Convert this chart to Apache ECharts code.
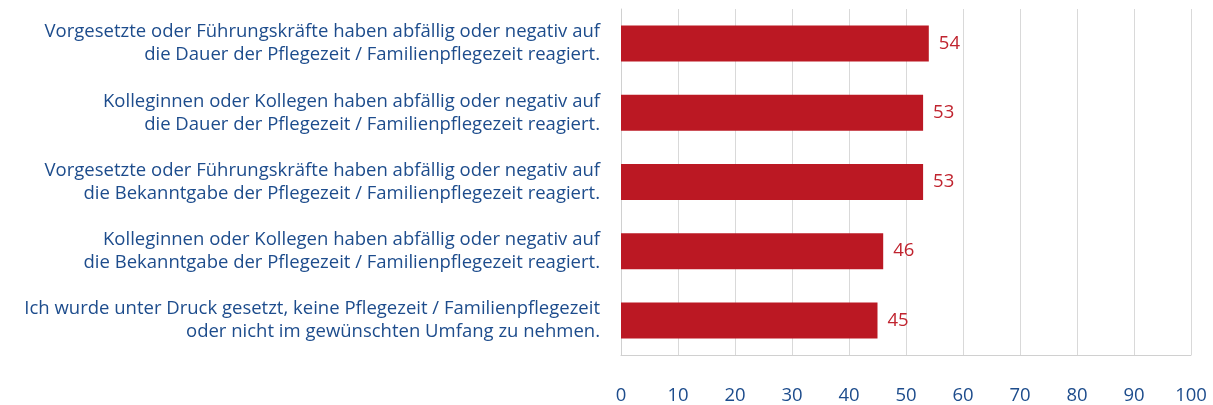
<!DOCTYPE html>
<html>
<head>
<meta charset="utf-8">
<script src="https://cdn.jsdelivr.net/npm/echarts@6/dist/echarts.min.js"></script>
<style>
  html, body { margin: 0; padding: 0; background: #fff; }
  #chart { width: 1213px; height: 405px; }
</style>
</head>
<body>
<div id="chart"></div>
<script>
// categories, top to bottom as in the picture
var categories = [
  'Vorgesetzte oder Führungskräfte haben abfällig oder negativ auf\ndie Dauer der Pflegezeit / Familienpflegezeit reagiert.',
  'Kolleginnen oder Kollegen haben abfällig oder negativ auf\ndie Dauer der Pflegezeit / Familienpflegezeit reagiert.',
  'Vorgesetzte oder Führungskräfte haben abfällig oder negativ auf\ndie Bekanntgabe der Pflegezeit / Familienpflegezeit reagiert.',
  'Kolleginnen oder Kollegen haben abfällig oder negativ auf\ndie Bekanntgabe der Pflegezeit / Familienpflegezeit reagiert.',
  'Ich wurde unter Druck gesetzt, keine Pflegezeit / Familienpflegezeit\noder nicht im gewünschten Umfang zu nehmen.'
];
var values = [54, 53, 53, 46, 45];

var axisMin = 0;
var axisMax = 100;
var axisStep = 10;

var blue = '#1d4c8c';
var red = '#bb1823';

var chart = echarts.init(document.getElementById('chart'));
var option = {
  animation: false,
  textStyle: { fontFamily: 'Open Sans' },
  grid: { left: 621, right: 22, top: 9, bottom: 50 },
  xAxis: {
    type: 'value',
    min: axisMin,
    max: axisMax,
    interval: axisStep,
    axisLine: { show: true, lineStyle: { color: '#d0d0d0', width: 1 } },
    axisTick: { show: false },
    axisLabel: { color: blue, fontSize: 18.5, margin: 31 },
    splitLine: { show: true, lineStyle: { color: '#d9d9d9', width: 1 } }
  },
  yAxis: {
    type: 'category',
    inverse: true,
    data: categories,
    axisLine: { show: true, lineStyle: { color: '#d0d0d0', width: 1 } },
    axisTick: { show: false },
    axisLabel: {
      color: blue,
      fontSize: 18.5,
      lineHeight: 23,
      align: 'right',
      margin: 21
    }
  },
  series: [{
    type: 'bar',
    data: values,
    barWidth: 36,
    itemStyle: { color: red },
    label: {
      show: true,
      position: 'right',
      distance: 10,
      color: '#c0242f',
      fontSize: 18.5
    }
  }]
};
chart.setOption(option);
</script>
</body>
</html>
